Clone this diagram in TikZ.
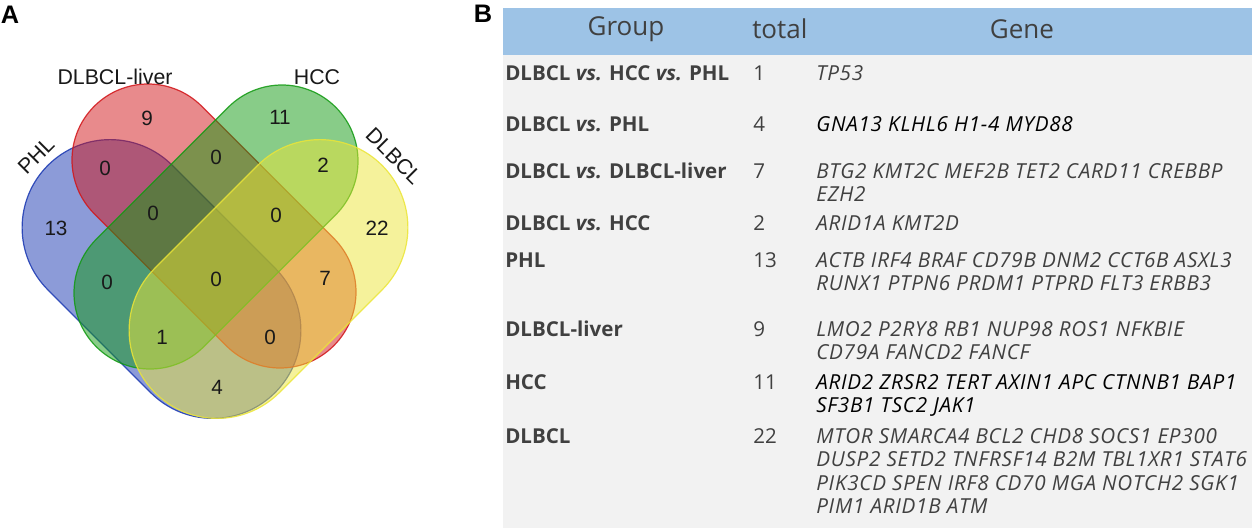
\documentclass[tikz,border=0pt]{standalone}
\usepackage{fontspec}
\setmainfont{Open Sans}
\newfontfamily\vennfont{Liberation Sans}
\newfontfamily\genefont{Open Sans}[LetterSpace=3.5]
\usetikzlibrary{shapes.misc}
\usetikzlibrary{positioning}

\definecolor{phlblue}{HTML}{1937B1}
\definecolor{liverred}{HTML}{D11519}
\definecolor{hccgreen}{HTML}{119911}
\definecolor{dlbclyellow}{HTML}{EBE537}
\definecolor{headblue}{HTML}{9DC3E6}
\definecolor{bodygray}{HTML}{F2F2F2}
\definecolor{tabtext}{HTML}{404040}

\begin{document}
\begin{tikzpicture}[x=0.75pt,y=-0.75pt,
  set/.style={rounded rectangle,inner sep=0pt,outer sep=0pt,fill opacity=0.5,draw opacity=0.85,line width=0.9pt},
  small set/.style={set,minimum width=254pt,minimum height=114pt},
  big set/.style={set,minimum width=241pt,minimum height=132pt},
  count/.style={font=\vennfont\fontsize{15.5}{18}\selectfont,text=black!90},
  setname/.style={font=\vennfont\fontsize{16}{18}\selectfont,text=black!90},
  panel/.style={font=\vennfont\bfseries\fontsize{19}{22}\selectfont},
  head/.style={font=\fontsize{19.5}{22}\selectfont,text=tabtext},
  group/.style={anchor=base west,inner sep=0pt,font=\bfseries\fontsize{15.4}{17.6}\selectfont,text=tabtext},
  total/.style={anchor=base west,inner sep=0pt,font=\fontsize{15.4}{17.6}\selectfont,text=tabtext},
  % multi-line cells sit on the baseline of their last line
  genes/.style={anchor=base west,inner sep=0pt,align=left,font=\genefont\itshape\fontsize{15.5}{17.6}\selectfont,text=tabtext}]

\useasboundingbox (0,0) rectangle (1252,528);

% panel A: venn
\node[panel] (A) at (10,15) {A};
\node[big set,draw=phlblue,fill=phlblue,rotate=-45] (phl) at (161.5,279) {};
\node[small set,draw=liverred,fill=liverred,rotate=-45] (liver) at (214,226) {};
\node[small set,draw=hccgreen,fill=hccgreen,rotate=45] (hcc) at (216,227) {};
\node[big set,draw=dlbclyellow,fill=dlbclyellow,rotate=45] (dlbcl) at (268.5,279) {};

\node[setname,rotate=45] (phl-name) at (36,156) {PHL};
\node[setname] (liver-name) at (115,77) {DLBCL-liver};
\node[setname] (hcc-name) at (317,77) {HCC};
\node[setname,rotate=-45] (dlbcl-name) at (394,156) {DLBCL};

\node[count] (n-liver) at (147,118) {9};
\node[count] (n-hcc) at (280,117) {11};
\node[count] (n-phl-liver) at (105,168) {0};
\node[count] (n-liver-hcc) at (216,157) {0};
\node[count] (n-hcc-dlbcl) at (323,165) {2};
\node[count] (n-phl) at (56,228) {13};
\node[count] (n-phl-liver-hcc) at (153,213) {0};
\node[count] (n-liver-hcc-dlbcl) at (276,215) {0};
\node[count] (n-dlbcl) at (377,228) {22};
\node[count] (n-phl-hcc) at (107,282) {0};
\node[count] (n-all) at (216,279) {0};
\node[count] (n-liver-dlbcl) at (325,278) {7};
\node[count] (n-phl-hcc-dlbcl) at (162,337) {1};
\node[count] (n-phl-liver-dlbcl) at (270,337) {0};
\node[count] (n-phl-dlbcl) at (217,387) {4};

% panel B: table
\node[panel] (B) at (483,14) {B};
\fill[bodygray] (503,55) rectangle (1252,528);
\fill[headblue] (503,8) rectangle (1252,55);
\node[head] (h-group) at (626,29) {Group};
\node[head,anchor=west,inner sep=0pt] (h-total) at (752,29) {total};
\node[head] (h-gene) at (1022,29) {Gene};

\node[group] (g1) at (505,80) {DLBCL \textit{vs.} HCC \textit{vs.} PHL};
\node[total] (t1) at (753,80) {1};
\node[genes] (s1) at (816,80) {TP53};

\node[group] (g2) at (505,131) {DLBCL \textit{vs.} PHL};
\node[total] (t2) at (753,131) {4};
\node[genes,text=black] (s2) at (816,131) {GNA13 KLHL6 H1-4 MYD88};

\node[group] (g3) at (505,178) {DLBCL \textit{vs.} DLBCL-liver};
\node[total] (t3) at (753,178) {7};
\node[genes] (s3) at (816,201.5) {BTG2 KMT2C MEF2B TET2 CARD11 CREBBP\\EZH2};

\node[group] (g4) at (505,230) {DLBCL \textit{vs.} HCC};
\node[total] (t4) at (753,230) {2};
\node[genes] (s4) at (816,230) {ARID1A KMT2D};

\node[group] (g5) at (505,267) {PHL};
\node[total] (t5) at (753,267) {13};
\node[genes] (s5) at (816,290.5) {ACTB IRF4 BRAF CD79B DNM2 CCT6B ASXL3\\RUNX1 PTPN6 PRDM1 PTPRD FLT3 ERBB3};

\node[group] (g6) at (505,336) {DLBCL-liver};
\node[total] (t6) at (753,336) {9};
\node[genes] (s6) at (816,359.5) {LMO2 P2RY8 RB1 NUP98 ROS1 NFKBIE\\CD79A FANCD2 FANCF};

\node[group] (g7) at (505,389) {HCC};
\node[total] (t7) at (753,389) {11};
\node[genes,text=black] (s7) at (816,412.5) {ARID2 ZRSR2 TERT AXIN1 APC CTNNB1 BAP1\\SF3B1 TSC2 JAK1};

\node[group] (g8) at (505,443) {DLBCL};
\node[total] (t8) at (753,443) {22};
\node[genes] (s8) at (816,513.5) {MTOR SMARCA4 BCL2 CHD8 SOCS1 EP300\\DUSP2 SETD2 TNFRSF14 B2M TBL1XR1 STAT6\\PIK3CD SPEN IRF8 CD70 MGA NOTCH2 SGK1\\PIM1 ARID1B ATM};

\end{tikzpicture}
\end{document}
